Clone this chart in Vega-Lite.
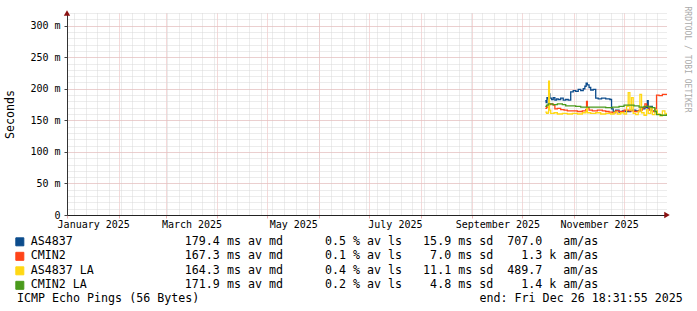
{
  "$schema": "https://vega.github.io/schema/vega-lite/v6.json",
  "width": 600,
  "height": 202,
  "autosize": {"type": "none"},
  "padding": {"left": 67, "top": 13, "right": 30, "bottom": 96},
  "background": "white",
  "config": {
    "font": "DejaVu Sans Mono",
    "view": {"stroke": null},
    "axis": {"labelFont": "DejaVu Sans Mono", "titleFont": "DejaVu Sans Mono", "labelColor": "#000", "titleColor": "#000"}
  },
  "title": {
    "text": "ICMP Echo Pings (56 Bytes)\u00a0\u00a0\u00a0\u00a0\u00a0\u00a0\u00a0\u00a0\u00a0\u00a0\u00a0\u00a0\u00a0\u00a0\u00a0\u00a0\u00a0\u00a0\u00a0\u00a0\u00a0\u00a0\u00a0\u00a0\u00a0\u00a0\u00a0\u00a0\u00a0\u00a0\u00a0\u00a0\u00a0\u00a0\u00a0\u00a0\u00a0\u00a0\u00a0\u00a0end: Fri Dec 26 18:31:55 2025",
    "orient": "bottom",
    "anchor": "start",
    "frame": "group",
    "font": "DejaVu Sans Mono",
    "fontSize": 11.65,
    "fontWeight": "normal",
    "color": "#000",
    "dx": -50,
    "offset": 1
  },
  "data": {
    "values": [
      {"s": "AS4837", "t": "2025-10-14T18:00", "v": 181},
      {"s": "AS4837", "t": "2025-10-15T06:00", "v": 178},
      {"s": "AS4837", "t": "2025-10-15T18:00", "v": 186},
      {"s": "AS4837", "t": "2025-10-16T12:00", "v": 184},
      {"s": "AS4837", "t": "2025-10-17T00:00", "v": 192},
      {"s": "AS4837", "t": "2025-10-17T12:00", "v": 185},
      {"s": "AS4837", "t": "2025-10-18T12:00", "v": 183},
      {"s": "AS4837", "t": "2025-10-19T12:00", "v": 186},
      {"s": "AS4837", "t": "2025-10-20T12:00", "v": 182},
      {"s": "AS4837", "t": "2025-10-21T12:00", "v": 184},
      {"s": "AS4837", "t": "2025-10-22T12:00", "v": 183},
      {"s": "AS4837", "t": "2025-10-24T00:00", "v": 185},
      {"s": "AS4837", "t": "2025-10-25T12:00", "v": 182},
      {"s": "AS4837", "t": "2025-10-27T00:00", "v": 183},
      {"s": "AS4837", "t": "2025-10-28T12:00", "v": 182},
      {"s": "AS4837", "t": "2025-10-30T00:00", "v": 195},
      {"s": "AS4837", "t": "2025-10-31T12:00", "v": 197},
      {"s": "AS4837", "t": "2025-11-02T00:00", "v": 196},
      {"s": "AS4837", "t": "2025-11-03T12:00", "v": 199},
      {"s": "AS4837", "t": "2025-11-05T00:00", "v": 197},
      {"s": "AS4837", "t": "2025-11-06T12:00", "v": 200},
      {"s": "AS4837", "t": "2025-11-07T12:00", "v": 204},
      {"s": "AS4837", "t": "2025-11-08T06:00", "v": 209},
      {"s": "AS4837", "t": "2025-11-09T00:00", "v": 206},
      {"s": "AS4837", "t": "2025-11-10T00:00", "v": 202},
      {"s": "AS4837", "t": "2025-11-11T00:00", "v": 198},
      {"s": "AS4837", "t": "2025-11-12T12:00", "v": 199},
      {"s": "AS4837", "t": "2025-11-14T00:00", "v": 185},
      {"s": "AS4837", "t": "2025-11-15T12:00", "v": 184},
      {"s": "AS4837", "t": "2025-11-17T12:00", "v": 185},
      {"s": "AS4837", "t": "2025-11-20T00:00", "v": 184},
      {"s": "AS4837", "t": "2025-11-22T12:00", "v": 183},
      {"s": "AS4837", "t": "2025-11-23T12:00", "v": 168},
      {"s": "AS4837", "t": "2025-11-24T12:00", "v": 164},
      {"s": "AS4837", "t": "2025-11-26T00:00", "v": 166},
      {"s": "AS4837", "t": "2025-11-28T00:00", "v": 163},
      {"s": "AS4837", "t": "2025-11-30T00:00", "v": 165},
      {"s": "AS4837", "t": "2025-12-02T00:00", "v": 164},
      {"s": "AS4837", "t": "2025-12-05T00:00", "v": 166},
      {"s": "AS4837", "t": "2025-12-08T00:00", "v": 165},
      {"s": "AS4837", "t": "2025-12-11T00:00", "v": 168},
      {"s": "AS4837", "t": "2025-12-13T12:00", "v": 170},
      {"s": "AS4837", "t": "2025-12-15T00:00", "v": 181},
      {"s": "AS4837", "t": "2025-12-15T12:00", "v": 168},
      {"s": "AS4837", "t": "2025-12-17T00:00", "v": 172},
      {"s": "AS4837", "t": "2025-12-18T00:00", "v": 165},
      {"s": "AS4837", "t": "2025-12-20T00:00", "v": 164},

      {"s": "CMIN2", "t": "2025-10-14T18:00", "v": 169},
      {"s": "CMIN2", "t": "2025-10-15T12:00", "v": 171},
      {"s": "CMIN2", "t": "2025-10-16T12:00", "v": 175},
      {"s": "CMIN2", "t": "2025-10-18T00:00", "v": 176},
      {"s": "CMIN2", "t": "2025-10-19T12:00", "v": 174},
      {"s": "CMIN2", "t": "2025-10-20T12:00", "v": 168},
      {"s": "CMIN2", "t": "2025-10-22T00:00", "v": 169},
      {"s": "CMIN2", "t": "2025-10-24T00:00", "v": 167},
      {"s": "CMIN2", "t": "2025-10-26T00:00", "v": 166},
      {"s": "CMIN2", "t": "2025-10-28T00:00", "v": 165},
      {"s": "CMIN2", "t": "2025-10-31T00:00", "v": 165},
      {"s": "CMIN2", "t": "2025-11-03T00:00", "v": 164},
      {"s": "CMIN2", "t": "2025-11-06T00:00", "v": 165},
      {"s": "CMIN2", "t": "2025-11-08T00:00", "v": 167},
      {"s": "CMIN2", "t": "2025-11-08T12:00", "v": 180},
      {"s": "CMIN2", "t": "2025-11-09T00:00", "v": 170},
      {"s": "CMIN2", "t": "2025-11-10T00:00", "v": 166},
      {"s": "CMIN2", "t": "2025-11-12T00:00", "v": 165},
      {"s": "CMIN2", "t": "2025-11-15T00:00", "v": 166},
      {"s": "CMIN2", "t": "2025-11-18T00:00", "v": 165},
      {"s": "CMIN2", "t": "2025-11-20T00:00", "v": 164},
      {"s": "CMIN2", "t": "2025-11-22T00:00", "v": 163},
      {"s": "CMIN2", "t": "2025-11-24T00:00", "v": 162},
      {"s": "CMIN2", "t": "2025-11-26T00:00", "v": 165},
      {"s": "CMIN2", "t": "2025-11-28T00:00", "v": 164},
      {"s": "CMIN2", "t": "2025-12-01T00:00", "v": 166},
      {"s": "CMIN2", "t": "2025-12-04T00:00", "v": 165},
      {"s": "CMIN2", "t": "2025-12-07T00:00", "v": 164},
      {"s": "CMIN2", "t": "2025-12-10T00:00", "v": 166},
      {"s": "CMIN2", "t": "2025-12-12T00:00", "v": 170},
      {"s": "CMIN2", "t": "2025-12-13T12:00", "v": 176},
      {"s": "CMIN2", "t": "2025-12-14T12:00", "v": 172},
      {"s": "CMIN2", "t": "2025-12-16T00:00", "v": 166},
      {"s": "CMIN2", "t": "2025-12-18T00:00", "v": 164},
      {"s": "CMIN2", "t": "2025-12-19T12:00", "v": 168},
      {"s": "CMIN2", "t": "2025-12-20T12:00", "v": 190},
      {"s": "CMIN2", "t": "2025-12-22T00:00", "v": 189},
      {"s": "CMIN2", "t": "2025-12-24T00:00", "v": 191},
      {"s": "CMIN2", "t": "2025-12-26T18:00", "v": 190},

      {"s": "AS4837 LA", "t": "2025-10-14T18:00", "v": 163},
      {"s": "AS4837 LA", "t": "2025-10-15T12:00", "v": 161},
      {"s": "AS4837 LA", "t": "2025-10-16T12:00", "v": 163},
      {"s": "AS4837 LA", "t": "2025-10-16T18:00", "v": 212},
      {"s": "AS4837 LA", "t": "2025-10-17T06:00", "v": 166},
      {"s": "AS4837 LA", "t": "2025-10-18T00:00", "v": 161},
      {"s": "AS4837 LA", "t": "2025-10-20T00:00", "v": 162},
      {"s": "AS4837 LA", "t": "2025-10-22T00:00", "v": 160},
      {"s": "AS4837 LA", "t": "2025-10-25T00:00", "v": 161},
      {"s": "AS4837 LA", "t": "2025-10-28T00:00", "v": 160},
      {"s": "AS4837 LA", "t": "2025-10-31T00:00", "v": 161},
      {"s": "AS4837 LA", "t": "2025-11-03T00:00", "v": 160},
      {"s": "AS4837 LA", "t": "2025-11-06T00:00", "v": 162},
      {"s": "AS4837 LA", "t": "2025-11-08T00:00", "v": 164},
      {"s": "AS4837 LA", "t": "2025-11-08T12:00", "v": 170},
      {"s": "AS4837 LA", "t": "2025-11-09T00:00", "v": 162},
      {"s": "AS4837 LA", "t": "2025-11-11T00:00", "v": 161},
      {"s": "AS4837 LA", "t": "2025-11-14T00:00", "v": 162},
      {"s": "AS4837 LA", "t": "2025-11-17T00:00", "v": 160},
      {"s": "AS4837 LA", "t": "2025-11-20T00:00", "v": 161},
      {"s": "AS4837 LA", "t": "2025-11-23T00:00", "v": 160},
      {"s": "AS4837 LA", "t": "2025-11-25T00:00", "v": 163},
      {"s": "AS4837 LA", "t": "2025-11-27T00:00", "v": 160},
      {"s": "AS4837 LA", "t": "2025-11-29T00:00", "v": 162},
      {"s": "AS4837 LA", "t": "2025-12-01T00:00", "v": 160},
      {"s": "AS4837 LA", "t": "2025-12-02T12:00", "v": 172},
      {"s": "AS4837 LA", "t": "2025-12-03T12:00", "v": 194},
      {"s": "AS4837 LA", "t": "2025-12-04T12:00", "v": 166},
      {"s": "AS4837 LA", "t": "2025-12-05T12:00", "v": 186},
      {"s": "AS4837 LA", "t": "2025-12-06T12:00", "v": 161},
      {"s": "AS4837 LA", "t": "2025-12-08T00:00", "v": 159},
      {"s": "AS4837 LA", "t": "2025-12-09T12:00", "v": 164},
      {"s": "AS4837 LA", "t": "2025-12-10T12:00", "v": 191},
      {"s": "AS4837 LA", "t": "2025-12-11T12:00", "v": 162},
      {"s": "AS4837 LA", "t": "2025-12-13T00:00", "v": 158},
      {"s": "AS4837 LA", "t": "2025-12-14T12:00", "v": 167},
      {"s": "AS4837 LA", "t": "2025-12-15T12:00", "v": 161},
      {"s": "AS4837 LA", "t": "2025-12-17T00:00", "v": 170},
      {"s": "AS4837 LA", "t": "2025-12-18T00:00", "v": 159},
      {"s": "AS4837 LA", "t": "2025-12-19T12:00", "v": 166},
      {"s": "AS4837 LA", "t": "2025-12-21T00:00", "v": 160},
      {"s": "AS4837 LA", "t": "2025-12-22T12:00", "v": 157},
      {"s": "AS4837 LA", "t": "2025-12-24T00:00", "v": 165},
      {"s": "AS4837 LA", "t": "2025-12-25T12:00", "v": 160},
      {"s": "AS4837 LA", "t": "2025-12-26T18:00", "v": 162},

      {"s": "CMIN2 LA", "t": "2025-10-14T18:00", "v": 172},
      {"s": "CMIN2 LA", "t": "2025-10-15T12:00", "v": 174},
      {"s": "CMIN2 LA", "t": "2025-10-16T12:00", "v": 176},
      {"s": "CMIN2 LA", "t": "2025-10-19T00:00", "v": 175},
      {"s": "CMIN2 LA", "t": "2025-10-22T00:00", "v": 176},
      {"s": "CMIN2 LA", "t": "2025-10-25T00:00", "v": 175},
      {"s": "CMIN2 LA", "t": "2025-10-27T00:00", "v": 173},
      {"s": "CMIN2 LA", "t": "2025-10-30T00:00", "v": 173},
      {"s": "CMIN2 LA", "t": "2025-11-02T00:00", "v": 172},
      {"s": "CMIN2 LA", "t": "2025-11-05T00:00", "v": 171},
      {"s": "CMIN2 LA", "t": "2025-11-09T00:00", "v": 171},
      {"s": "CMIN2 LA", "t": "2025-11-12T00:00", "v": 171},
      {"s": "CMIN2 LA", "t": "2025-11-16T00:00", "v": 171},
      {"s": "CMIN2 LA", "t": "2025-11-20T00:00", "v": 170},
      {"s": "CMIN2 LA", "t": "2025-11-24T00:00", "v": 171},
      {"s": "CMIN2 LA", "t": "2025-11-28T00:00", "v": 172},
      {"s": "CMIN2 LA", "t": "2025-12-01T00:00", "v": 174},
      {"s": "CMIN2 LA", "t": "2025-12-04T00:00", "v": 174},
      {"s": "CMIN2 LA", "t": "2025-12-07T00:00", "v": 173},
      {"s": "CMIN2 LA", "t": "2025-12-10T00:00", "v": 171},
      {"s": "CMIN2 LA", "t": "2025-12-13T00:00", "v": 172},
      {"s": "CMIN2 LA", "t": "2025-12-16T00:00", "v": 171},
      {"s": "CMIN2 LA", "t": "2025-12-18T00:00", "v": 170},
      {"s": "CMIN2 LA", "t": "2025-12-19T12:00", "v": 164},
      {"s": "CMIN2 LA", "t": "2025-12-20T12:00", "v": 159},
      {"s": "CMIN2 LA", "t": "2025-12-23T00:00", "v": 158},
      {"s": "CMIN2 LA", "t": "2025-12-26T18:00", "v": 160}
    ]
  },
  "layer": [
    {
      "mark": {"type": "line", "strokeOpacity": 0},
      "encoding": {
        "x": {"field": "t", "type": "temporal",
          "scale": {"domain": [{"year": 2024, "month": 12, "date": 31, "hours": 18, "minutes": 31, "seconds": 55}, {"year": 2025, "month": 12, "date": 26, "hours": 18, "minutes": 31, "seconds": 55}], "nice": false},
          "axis": {"orient": "bottom", "tickCount": {"interval": "week", "step": 1}, "grid": true, "gridColor": "#d9d9d9", "gridDash": [1, 1], "labels": false, "ticks": false, "domain": false, "title": null}},
        "y": {"field": "v", "type": "quantitative",
          "scale": {"domain": [0, 320], "nice": false},
          "axis": {"orient": "left", "values": [0,10,20,30,40,50,60,70,80,90,100,110,120,130,140,150,160,170,180,190,200,210,220,230,240,250,260,270,280,290,300,310,320], "grid": true, "gridColor": "#d9d9d9", "gridDash": [1, 1], "labels": false, "ticks": false, "domain": false, "title": null}}
      }
    },
    {
      "mark": {"type": "line", "strokeOpacity": 0},
      "encoding": {
        "x": {"field": "t", "type": "temporal",
          "scale": {"domain": [{"year": 2024, "month": 12, "date": 31, "hours": 18, "minutes": 31, "seconds": 55}, {"year": 2025, "month": 12, "date": 26, "hours": 18, "minutes": 31, "seconds": 55}], "nice": false},
          "axis": {"orient": "bottom", "values": [{"year": 2025, "month": 1, "date": 1}, {"year": 2025, "month": 2, "date": 1}, {"year": 2025, "month": 3, "date": 1}, {"year": 2025, "month": 4, "date": 1}, {"year": 2025, "month": 5, "date": 1}, {"year": 2025, "month": 6, "date": 1}, {"year": 2025, "month": 7, "date": 1}, {"year": 2025, "month": 8, "date": 1}, {"year": 2025, "month": 9, "date": 1}, {"year": 2025, "month": 10, "date": 1}, {"year": 2025, "month": 11, "date": 1}, {"year": 2025, "month": 12, "date": 1}],
            "grid": true, "gridColor": "#eab2b2", "gridDash": [1, 1], "ticks": true, "tickSize": 3, "tickColor": "#eab2b2", "labels": false, "domain": false, "title": null}},
        "y": {"field": "v", "type": "quantitative",
          "scale": {"domain": [0, 320], "nice": false},
          "axis": {"orient": "left", "values": [0, 50, 100, 150, 200, 250, 300], "grid": true, "gridColor": "#eab2b2", "gridDash": [1, 1], "ticks": true, "tickSize": 3, "tickColor": "#444", "domain": true, "domainColor": "#333",
            "labelExpr": "datum.value == 0 ? '0' : datum.value + ' m'", "labelFontSize": 10, "labelPadding": 4,
            "title": "Seconds", "titleFontSize": 11.65, "titleFontWeight": "normal", "titleX": -57, "titleY": 101, "titleAngle": -90, "titleAlign": "center", "titleBaseline": "middle"}}
      }
    },
    {
      "mark": {"type": "line", "interpolate": "step-after", "strokeWidth": 1.3, "clip": true},
      "encoding": {
        "x": {"field": "t", "type": "temporal",
          "scale": {"domain": [{"year": 2024, "month": 12, "date": 31, "hours": 18, "minutes": 31, "seconds": 55}, {"year": 2025, "month": 12, "date": 26, "hours": 18, "minutes": 31, "seconds": 55}], "nice": false},
          "axis": {"orient": "bottom", "values": [{"year": 2025, "month": 1, "date": 16, "hours": 12}, {"year": 2025, "month": 3, "date": 16, "hours": 12}, {"year": 2025, "month": 5, "date": 16, "hours": 12}, {"year": 2025, "month": 7, "date": 16, "hours": 12}, {"year": 2025, "month": 9, "date": 16}, {"year": 2025, "month": 11, "date": 16}],
            "labelExpr": "timeFormat(datum.value, '%B %Y')", "labelOverlap": false, "labelFlush": false, "labelBound": false, "labelFontSize": 10, "labelPadding": 4,
            "ticks": false, "grid": false, "domain": true, "domainColor": "#222", "title": null}},
        "y": {"field": "v", "type": "quantitative", "scale": {"domain": [0, 320], "nice": false}, "axis": null},
        "color": {"field": "s", "type": "nominal",
          "scale": {"domain": ["AS4837", "CMIN2", "AS4837 LA", "CMIN2 LA"], "range": ["#0c4c8c", "#ff4419", "#ffd814", "#4a9a1c"]},
          "legend": {"orient": "none", "legendX": -53, "legendY": 223, "direction": "vertical", "title": null,
            "symbolType": "square", "symbolSize": 64, "symbolStrokeWidth": 1, "labelFont": "DejaVu Sans Mono", "labelFontSize": 11.65, "labelLimit": 700, "labelOffset": 5, "rowPadding": 1.5, "labelColor": "#000",
            "labelExpr": "datum.label == 'AS4837' ? 'AS4837\u00a0\u00a0\u00a0\u00a0\u00a0\u00a0\u00a0\u00a0\u00a0\u00a0\u00a0\u00a0\u00a0\u00a0\u00a0\u00a0179.4 ms av md\u00a0\u00a0\u00a0\u00a0\u00a0\u00a00.5 % av ls\u00a0\u00a0\u00a015.9 ms sd\u00a0\u00a0707.0\u00a0\u00a0\u00a0am/as' : datum.label == 'CMIN2' ? 'CMIN2\u00a0\u00a0\u00a0\u00a0\u00a0\u00a0\u00a0\u00a0\u00a0\u00a0\u00a0\u00a0\u00a0\u00a0\u00a0\u00a0\u00a0167.3 ms av md\u00a0\u00a0\u00a0\u00a0\u00a0\u00a00.1 % av ls\u00a0\u00a0\u00a0\u00a07.0 ms sd\u00a0\u00a0\u00a0\u00a01.3 k am/as' : datum.label == 'AS4837 LA' ? 'AS4837 LA\u00a0\u00a0\u00a0\u00a0\u00a0\u00a0\u00a0\u00a0\u00a0\u00a0\u00a0\u00a0\u00a0164.3 ms av md\u00a0\u00a0\u00a0\u00a0\u00a0\u00a00.4 % av ls\u00a0\u00a0\u00a011.1 ms sd\u00a0\u00a0489.7\u00a0\u00a0\u00a0am/as' : 'CMIN2 LA\u00a0\u00a0\u00a0\u00a0\u00a0\u00a0\u00a0\u00a0\u00a0\u00a0\u00a0\u00a0\u00a0\u00a0171.9 ms av md\u00a0\u00a0\u00a0\u00a0\u00a0\u00a00.2 % av ls\u00a0\u00a0\u00a0\u00a04.8 ms sd\u00a0\u00a0\u00a0\u00a01.4 k am/as'",
            "encode": {"symbols": {"update": {"fill": {"scale": "color", "field": "value"}, "stroke": {"value": "#000"}, "strokeWidth": {"value": 1}, "opacity": {"value": 1}}}}}}
      }
    },
    {
      "mark": {"type": "line", "strokeOpacity": 0},
      "encoding": {
        "x": {"field": "t", "type": "temporal", "scale": {"domain": [{"year": 2024, "month": 12, "date": 31, "hours": 18, "minutes": 31, "seconds": 55}, {"year": 2025, "month": 12, "date": 26, "hours": 18, "minutes": 31, "seconds": 55}], "nice": false}, "axis": null},
        "y": {"field": "v", "type": "quantitative", "scale": {"domain": [0, 320], "nice": false},
          "axis": {"orient": "right", "labels": false, "ticks": false, "domain": false, "grid": false,
            "title": "RRDTOOL / TOBI OETIKER", "titleFontSize": 8, "titleFontWeight": "normal", "titleColor": "#aaaaaa", "titleAngle": 90, "titleX": 19, "titleY": 46, "titleAlign": "center", "titleBaseline": "middle"}}
      }
    },
    {
      "data": {"values": [{}]},
      "mark": {"type": "point", "shape": "triangle-right", "filled": true, "color": "#8b1010", "size": 40, "opacity": 1, "clip": false},
      "encoding": {
        "x": {"datum": {"year": 2025, "month": 12, "date": 26, "hours": 18, "minutes": 31, "seconds": 55}, "type": "temporal", "axis": null},
        "y": {"datum": 0, "type": "quantitative", "axis": null}
      }
    },
    {
      "data": {"values": [{}]},
      "mark": {"type": "point", "shape": "triangle-up", "filled": true, "color": "#8b1010", "size": 40, "opacity": 1, "clip": false},
      "encoding": {
        "x": {"datum": {"year": 2024, "month": 12, "date": 31, "hours": 18, "minutes": 31, "seconds": 55}, "type": "temporal", "axis": null},
        "y": {"datum": 320, "type": "quantitative", "axis": null}
      }
    }
  ],
  "resolve": {"axis": {"x": "independent", "y": "independent"}}
}
